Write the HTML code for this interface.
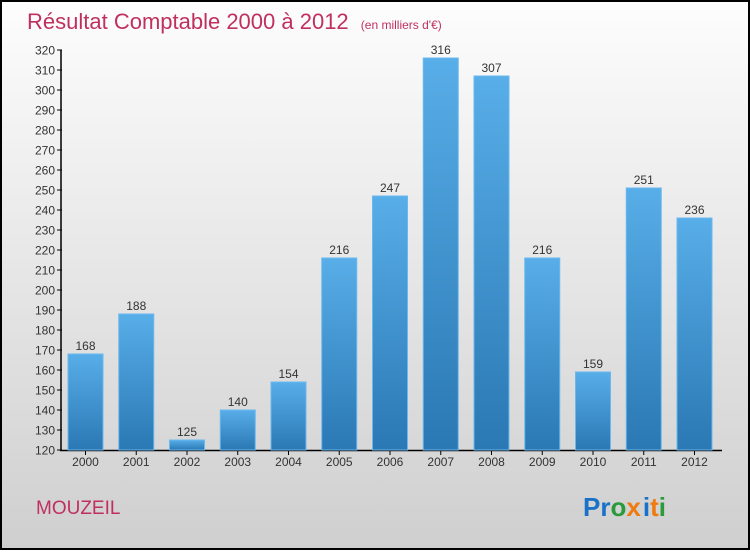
<!DOCTYPE html>
<html><head><meta charset="utf-8"><style>
body{margin:0;width:750px;height:550px;overflow:hidden;font-family:"Liberation Sans",sans-serif}
</style></head><body>
<svg width="750" height="550" xmlns="http://www.w3.org/2000/svg">
<defs>
<linearGradient id="bg" x1="0" y1="0" x2="0" y2="1"><stop offset="0" stop-color="#fdfdfd"/><stop offset="1" stop-color="#cfcfcf"/></linearGradient>
<linearGradient id="bar" x1="0" y1="0" x2="0" y2="1"><stop offset="0" stop-color="#58aee8"/><stop offset="1" stop-color="#2a78b4"/></linearGradient>
</defs>
<rect x="1" y="1" width="748" height="548" fill="url(#bg)" stroke="#000" stroke-width="2"/>
<text x="27" y="29" font-size="22" fill="#c0305f">Résultat Comptable 2000 à 2012 <tspan font-size="12" dx="6">(en milliers d'€)</tspan></text>
<g id="axes"></g>
<g id="bars"></g>
<text x="36" y="514" font-size="19" fill="#c0305f">MOUZEIL</text>
<text x="583" y="516" font-size="26" font-weight="bold"><tspan fill="#1a72c8">Pr</tspan><tspan fill="#2a9a3a">o</tspan><tspan fill="#f07a10">x</tspan><tspan fill="#1a72c8" dx="2">i</tspan><tspan fill="#f07a10">t</tspan><tspan fill="#2a9a3a">i</tspan></text>
</svg>
<script>
const years=["2000","2001","2002","2003","2004","2005","2006","2007","2008","2009","2010","2011","2012"];
const values=[168,188,125,140,154,216,247,316,307,216,159,251,236];
const yTicks=[120,130,140,150,160,170,180,190,200,210,220,230,240,250,260,270,280,290,300,310,320];
const NS="http://www.w3.org/2000/svg";
const y0=450,yMin=120,yMax=320,plotH=400;
function yS(v){return y0-(v-yMin)/(yMax-yMin)*plotH;}
function xS(i){return 68+i*50.75;}
const bw=35;
function mk(t,a,p){const e=document.createElementNS(NS,t);for(const k in a)e.setAttribute(k,a[k]);p.appendChild(e);return e;}
const ax=document.getElementById('axes'),bs=document.getElementById('bars');
let l=mk('line',{x1:61,y1:50,x2:61,y2:451,stroke:'#000','stroke-width':1.5},ax);


l=mk('line',{x1:60,y1:450.5,x2:722,y2:450.5,stroke:'#000','stroke-width':1.5},ax);


yTicks.forEach(v=>{const y=yS(v);
 mk('line',{x1:57,y1:y,x2:62,y2:y,stroke:'#000'},ax);
 const t=mk('text',{x:55,y:y+4.5,'text-anchor':'end','font-size':12,fill:'#333'},ax);t.textContent=v;
 
 
});
values.forEach((v,i)=>{const x=xS(i),y=yS(v);
 const r=mk('rect',{x:x,y:y,width:bw,height:y0-y,fill:'url(#bar)',stroke:'#6bb8ee','stroke-width':1},bs);
 
 
 const t=mk('text',{x:x+bw/2,y:y-4,'text-anchor':'middle','font-size':12,fill:'#333'},bs);t.textContent=v;
 
 
 mk('line',{x1:x+bw/2,y1:450,x2:x+bw/2,y2:455,stroke:'#000'},ax);
 const xl=mk('text',{x:x+bw/2,y:466,'text-anchor':'middle','font-size':12,fill:'#333'},ax);xl.textContent=years[i];
 
 
});
</script>
</body></html>
